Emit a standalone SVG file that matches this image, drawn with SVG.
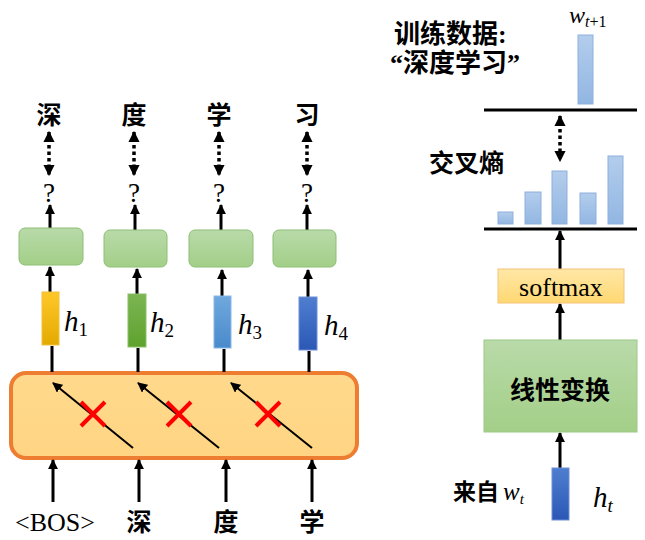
<svg xmlns="http://www.w3.org/2000/svg" width="645" height="540" viewBox="0 0 645 540">
<style>
.cjk{font-family:"Liberation Serif","Noto Sans CJK SC",serif;fill:#000;font-weight:bold}
.big{font-size:25px;font-weight:bold}
.q{font-family:"Liberation Serif",serif;font-size:27px}
.math{font-family:"Liberation Serif",serif;font-style:italic}
.ar{stroke:#000;stroke-width:3;fill:none}
.dot{stroke:#000;stroke-width:3.5;fill:none;stroke-dasharray:3.5 3}
.gbox{fill:url(#gg);stroke:#8CBF74;stroke-width:1}
.bar{fill:url(#bl);stroke:#8DB0DD;stroke-width:1}
.x{stroke:#FF0000;stroke-width:4;fill:none}
.rule{stroke:#000;stroke-width:3}
</style>
<defs>
<marker id="ah" viewBox="0 0 10 10" refX="9" refY="5" markerWidth="3.3" markerHeight="3.3" orient="auto-start-reverse">
<path d="M0,0 L10,5 L0,10 z" fill="#000"/>
</marker>
<marker id="ahs" viewBox="0 0 10 10" refX="9" refY="5" markerWidth="5" markerHeight="5" orient="auto">
<path d="M0,0 L10,5 L0,10 z" fill="#000"/>
</marker>
<linearGradient id="gg" x1="0" y1="0" x2="0" y2="1"><stop offset="0" stop-color="#B9DAA9"/><stop offset="1" stop-color="#A3CF88"/></linearGradient>
<linearGradient id="bl" x1="0" y1="0" x2="0" y2="1"><stop offset="0" stop-color="#B3CDEC"/><stop offset="1" stop-color="#92B6E2"/></linearGradient>
<linearGradient id="og" x1="0" y1="0" x2="0" y2="1"><stop offset="0" stop-color="#FFD98C"/><stop offset="1" stop-color="#FFD583"/></linearGradient>
<linearGradient id="sg" x1="0" y1="0" x2="0" y2="1"><stop offset="0" stop-color="#FFE7A6"/><stop offset="1" stop-color="#FFD872"/></linearGradient>
<linearGradient id="h1g" x1="0" y1="0" x2="0" y2="1"><stop offset="0" stop-color="#FFC82A"/><stop offset="1" stop-color="#E3AA00"/></linearGradient>
<linearGradient id="h2g" x1="0" y1="0" x2="0" y2="1"><stop offset="0" stop-color="#7CB552"/><stop offset="1" stop-color="#5EA22E"/></linearGradient>
<linearGradient id="h3g" x1="0" y1="0" x2="0" y2="1"><stop offset="0" stop-color="#6FA8DE"/><stop offset="1" stop-color="#4A8ACB"/></linearGradient>
<linearGradient id="h4g" x1="0" y1="0" x2="0" y2="1"><stop offset="0" stop-color="#4F7ED0"/><stop offset="1" stop-color="#2A58B5"/></linearGradient>
</defs>
<rect width="645" height="540" fill="#fff"/>

<g id="rnn">
<rect x="11" y="373" width="346" height="85" rx="15" fill="url(#og)" stroke="#ED7D31" stroke-width="4"/>
</g>

<g id="connectors">
<line class="ar" x1="53" y1="502" x2="53" y2="460" marker-end="url(#ah)"/>
<line class="ar" x1="139" y1="502" x2="139" y2="460" marker-end="url(#ah)"/>
<line class="ar" x1="226" y1="502" x2="226" y2="460" marker-end="url(#ah)"/>
<line class="ar" x1="312" y1="502" x2="312" y2="460" marker-end="url(#ah)"/>
<line class="ar" x1="52" y1="372" x2="52" y2="346"/>
<line class="ar" x1="138" y1="372" x2="138" y2="348"/>
<line class="ar" x1="224" y1="372" x2="224" y2="349"/>
<line class="ar" x1="309" y1="372" x2="309" y2="351"/>
<line class="ar" x1="50" y1="292" x2="50" y2="267" marker-end="url(#ah)"/>
<line class="ar" x1="137" y1="294" x2="137" y2="269" marker-end="url(#ah)"/>
<line class="ar" x1="222" y1="296" x2="222" y2="270" marker-end="url(#ah)"/>
<line class="ar" x1="308" y1="297" x2="308" y2="270" marker-end="url(#ah)"/>
<line class="ar" x1="50" y1="228" x2="50" y2="205" marker-end="url(#ah)"/>
<line class="ar" x1="135" y1="230" x2="135" y2="205" marker-end="url(#ah)"/>
<line class="ar" x1="221" y1="230" x2="221" y2="205" marker-end="url(#ah)"/>
<line class="ar" x1="307" y1="230" x2="307" y2="205" marker-end="url(#ah)"/>
<line class="dot" x1="49" y1="132" x2="49" y2="175" marker-start="url(#ah)" marker-end="url(#ah)"/>
<line class="dot" x1="134" y1="132" x2="134" y2="175" marker-start="url(#ah)" marker-end="url(#ah)"/>
<line class="dot" x1="219" y1="132" x2="219" y2="175" marker-start="url(#ah)" marker-end="url(#ah)"/>
<line class="dot" x1="307" y1="132" x2="307" y2="175" marker-start="url(#ah)" marker-end="url(#ah)"/>
<line x1="133" y1="448" x2="53" y2="383" stroke="#000" stroke-width="2" marker-end="url(#ahs)"/>
<line x1="219" y1="448" x2="138" y2="383" stroke="#000" stroke-width="2" marker-end="url(#ahs)"/>
<line x1="312" y1="448" x2="231" y2="383" stroke="#000" stroke-width="2" marker-end="url(#ahs)"/>
<line class="dot" x1="560" y1="116" x2="560" y2="161" marker-start="url(#ah)" marker-end="url(#ah)" stroke-dasharray="3.5 5"/>
<line class="ar" x1="560" y1="269" x2="560" y2="231" marker-end="url(#ah)"/>
<line class="ar" x1="560" y1="340" x2="560" y2="304" marker-end="url(#ah)"/>
<line class="ar" x1="560" y1="468" x2="560" y2="433" marker-end="url(#ah)"/>
</g>

<g id="crosses">
<path class="x" d="M81,402 L105,426 M105,402 L81,426"/>
<path class="x" d="M167,402 L191,426 M191,402 L167,426"/>
<path class="x" d="M256,402 L280,426 M280,402 L256,426"/>
</g>

<g id="outputs">
<text class="cjk big" x="49" y="124" text-anchor="middle">深</text>
<text class="cjk big" x="134" y="124" text-anchor="middle">度</text>
<text class="cjk big" x="219" y="124" text-anchor="middle">学</text>
<text class="cjk big" x="307" y="124" text-anchor="middle">习</text>
<text class="q" x="49" y="202" text-anchor="middle">?</text>
<text class="q" x="134" y="202" text-anchor="middle">?</text>
<text class="q" x="219" y="202" text-anchor="middle">?</text>
<text class="q" x="307" y="202" text-anchor="middle">?</text>
</g>

<g id="box1"><rect class="gbox" x="19" y="228" width="64" height="37" rx="6"/></g>
<g id="box2"><rect class="gbox" x="104" y="230" width="63" height="37" rx="6"/></g>
<g id="box3"><rect class="gbox" x="189" y="230" width="64" height="37" rx="6"/></g>
<g id="box4"><rect class="gbox" x="273" y="230" width="63" height="37" rx="6"/></g>

<g id="h1"><rect x="42" y="292" width="17" height="53" fill="url(#h1g)" stroke="#F0C040" stroke-width="1"/>
<text class="math" x="64" y="331" font-size="29">h<tspan font-style="normal" font-size="19" dy="5">1</tspan></text></g>
<g id="h2"><rect x="128" y="294" width="18" height="53" fill="url(#h2g)" stroke="#8CC06A" stroke-width="1"/>
<text class="math" x="150" y="332" font-size="29">h<tspan font-style="normal" font-size="19" dy="5">2</tspan></text></g>
<g id="h3"><rect x="214" y="296" width="17" height="52" fill="url(#h3g)" stroke="#8BB8E6" stroke-width="1"/>
<text class="math" x="238" y="334" font-size="29">h<tspan font-style="normal" font-size="19" dy="5">3</tspan></text></g>
<g id="h4"><rect x="299" y="297" width="18" height="53" fill="url(#h4g)" stroke="#6F8FD8" stroke-width="1"/>
<text class="math" x="324" y="335" font-size="29">h<tspan font-style="normal" font-size="19" dy="5">4</tspan></text></g>

<g id="inputs">
<text x="55" y="531" font-family="Liberation Serif, serif" font-size="26" text-anchor="middle">&lt;BOS&gt;</text>
<text class="cjk" x="139" y="531" font-size="25" text-anchor="middle">深</text>
<text class="cjk" x="226" y="531" font-size="25" text-anchor="middle">度</text>
<text class="cjk" x="312" y="531" font-size="25" text-anchor="middle">学</text>
</g>

<g id="training">
<text class="cjk" x="394" y="43" font-size="26">训练数据:</text>
<text class="cjk" x="390" y="72" font-size="26">“深度学习”</text>
<text class="math" x="569" y="23" font-size="24">w<tspan font-size="16" dy="4">t</tspan><tspan font-size="16" font-style="normal">+1</tspan></text>
<rect class="bar" x="578" y="35" width="15" height="69"/>
<line class="rule" x1="484" y1="110" x2="637" y2="110"/>
</g>

<g id="crossentropy">
<text class="cjk" x="429" y="172" font-size="25">交叉熵</text>
<rect class="bar" x="498" y="212" width="15" height="12"/>
<rect class="bar" x="525" y="192" width="16" height="32"/>
<rect class="bar" x="552" y="171" width="15" height="53"/>
<rect class="bar" x="580" y="193" width="16" height="31"/>
<rect class="bar" x="608" y="156" width="15" height="68"/>
<line class="rule" x1="484" y1="229" x2="637" y2="229"/>
</g>

<g id="softmax">
<rect x="498" y="269" width="126" height="34" fill="url(#sg)" stroke="#F4C37A" stroke-width="1"/>
<text x="561" y="296" font-family="Liberation Serif, serif" font-size="26" text-anchor="middle">softmax</text>
</g>

<g id="linear">
<rect x="484" y="340" width="153" height="92" fill="url(#gg)" stroke="#9CC987" stroke-width="1"/>
<text class="cjk" x="560" y="399" font-size="25" text-anchor="middle">线性变换</text>
</g>

<g id="ht">
<rect x="552" y="468" width="17" height="52" fill="url(#h4g)" stroke="#6F8FD8" stroke-width="1"/>
<text class="cjk" x="453" y="500" font-size="23">来自</text>
<text class="math" x="503" y="500" font-size="25">w<tspan font-size="15" dy="4">t</tspan></text>
<text class="math" x="593" y="507" font-size="29">h<tspan font-size="19" dy="5">t</tspan></text>
</g>
</svg>
